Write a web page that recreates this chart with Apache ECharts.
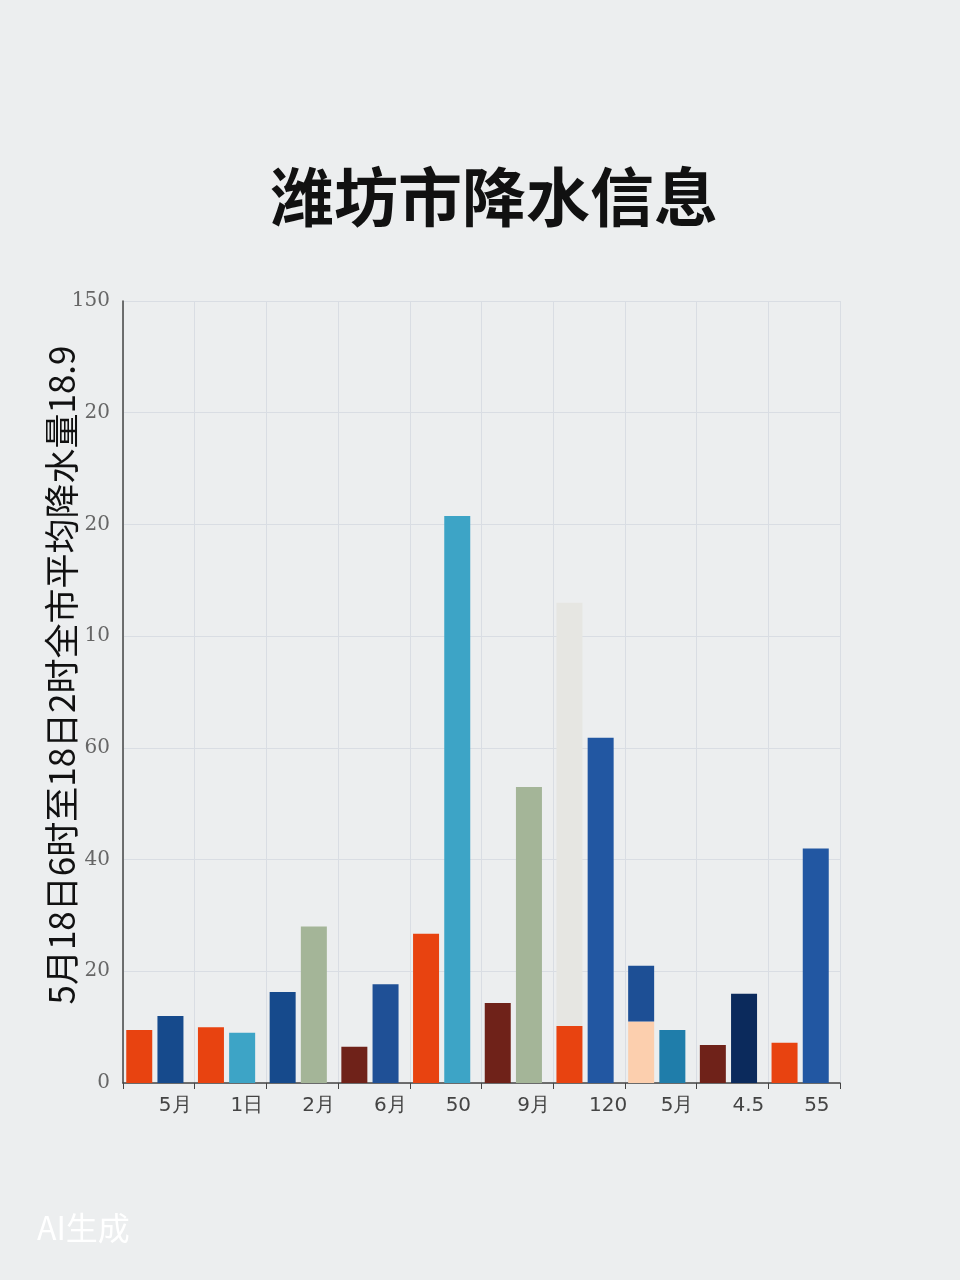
<!DOCTYPE html>
<html>
<head>
<meta charset="utf-8">
<script src="https://cdn.jsdelivr.net/npm/echarts@6/dist/echarts.min.js"></script>
<style>
html,body{margin:0;padding:0;background:#eceeef;}
#c{width:960px;height:1280px;}
</style>
</head>
<body>
<div id="c"></div>
<script>
var categories = ['5月', '1日', '2月', '6月', '50', '9月', '120', '5月', '4.5', '55'];
var yTickLabels = ['0', '20', '40', '60', '10', '20', '20', '150'];
var seriesA = [9.5, 10, 16.3, 6.5, 26.7, 14.3, 10.2, 11, 6.8, 7.2];
var seriesATop = [null, null, null, null, null, null, 75.8, 10, null, null];
var seriesB = [12, 9, 28, 17.7, 101.5, 53, 61.8, 9.5, 16, 42];
var colorsA = ['#e84310', '#e84310', '#164a8c', '#6f2219', '#e84310', '#6f2219', '#e84310', '#fccfae', '#6f2219', '#e84310'];
var colorsATop = [null, null, null, null, null, null, '#e6e6e2', '#1d4f95', null, null];
var colorsB = ['#164a8c', '#3da4c6', '#a4b598', '#1f5096', '#3da4c6', '#a4b598', '#2257a2', '#1f7daa', '#0b2a5c', '#2257a2'];

function withColors(vals, cols) {
  return vals.map(function (v, i) {
    return v == null ? null : { value: v, itemStyle: { color: cols[i] } };
  });
}

var chart = echarts.init(document.getElementById('c'), null, { renderer: 'canvas' });
chart.setOption({
  backgroundColor: '#eceeef',
  animation: false,
  grid: [
    { left: 123, right: 120, top: 301, bottom: 197 },
    { left: 119, right: 124, top: 301, bottom: 197 }
  ],
  xAxis: [{
    type: 'category',
    gridIndex: 0,
    data: categories,
    boundaryGap: true,
    axisLine: { show: true, lineStyle: { color: '#444', width: 1.5 } },
    axisTick: { show: true, length: 6, lineStyle: { color: '#444' } },
    splitLine: { show: true, lineStyle: { color: '#d9dde3', width: 1 } },
    axisLabel: {
      align: 'left',
      margin: 13,
      fontSize: 20,
      color: '#444',
      fontFamily: 'DejaVu Sans'
    }
  }, {
    type: 'category',
    gridIndex: 1,
    data: categories,
    show: false
  }],
  yAxis: [{
    type: 'value',
    gridIndex: 0,
    min: 0,
    max: 140,
    interval: 20,
    axisLine: { show: true, lineStyle: { color: '#444', width: 1.5 } },
    axisTick: { show: false },
    splitLine: { show: true, lineStyle: { color: '#d9dde3', width: 1 } },
    axisLabel: {
      margin: 13,
      fontSize: 20,
      color: '#666',
      fontFamily: 'DejaVu Serif',
      formatter: function (v) { return yTickLabels[Math.round(v / 20)]; }
    }
  }, {
    type: 'value',
    gridIndex: 1,
    min: 0,
    max: 140,
    interval: 20,
    show: false
  }],
  series: [
    { type: 'bar', xAxisIndex: 1, yAxisIndex: 1, stack: 'a', barWidth: 26, barGap: '20%', data: withColors(seriesA, colorsA) },
    { type: 'bar', xAxisIndex: 1, yAxisIndex: 1, stack: 'a', barWidth: 26, barGap: '20%', data: withColors(seriesATop, colorsATop) },
    { type: 'bar', xAxisIndex: 1, yAxisIndex: 1, barWidth: 26, barGap: '20%', data: withColors(seriesB, colorsB) }
  ],
  graphic: [
    {
      type: 'text',
      x: 494, y: 197,
      style: {
        text: '潍坊市降水信息',
        fontSize: 64,
        fontWeight: 'bold',
        fill: '#111',
        fontFamily: 'Noto Sans CJK SC',
        textAlign: 'center',
        textVerticalAlign: 'middle'
      }
    },
    {
      type: 'text',
      x: 62, y: 675,
      rotation: Math.PI / 2,
      style: {
        text: '5月18日6时至18日2时全市平均降水量18.9',
        fontSize: 35,
        fill: '#111',
        fontFamily: 'Noto Sans CJK SC',
        textAlign: 'center',
        textVerticalAlign: 'middle'
      }
    },
    {
      type: 'text',
      x: 37, y: 1228,
      style: {
        text: 'AI生成',
        fontSize: 32,
        fill: '#ffffff',
        fontFamily: 'Noto Sans CJK SC',
        textVerticalAlign: 'middle',
        shadowColor: 'rgba(0,0,0,0.6)',
        shadowBlur: 2,
        shadowOffsetX: 1,
        shadowOffsetY: 1
      }
    }
  ]
});
</script>
</body>
</html>
